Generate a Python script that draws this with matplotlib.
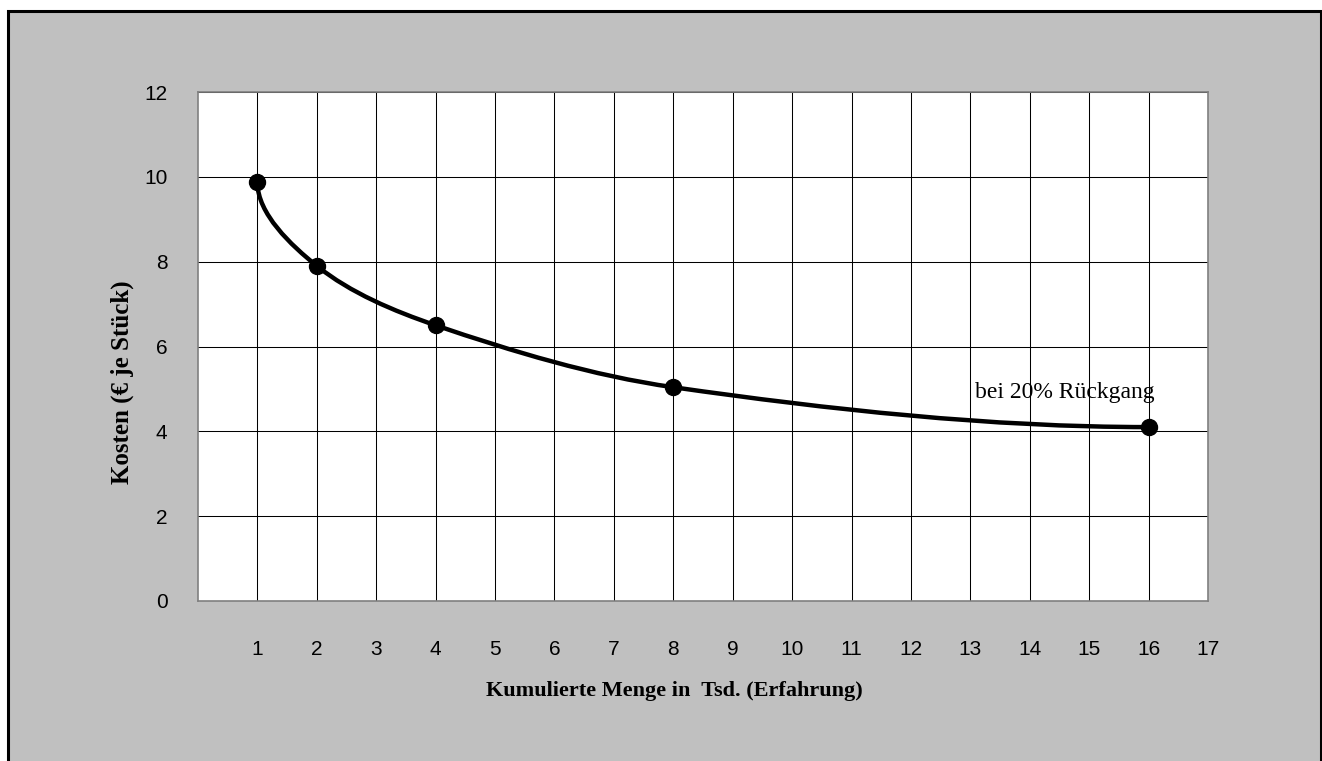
"""
Erfahrungskurve: Kosten je Stueck bei 20% Rueckgang
"""
import numpy as np
import matplotlib
matplotlib.use('Agg')
import matplotlib.pyplot as plt
from matplotlib.path import Path
from matplotlib.patches import PathPatch, Rectangle

# =============================================================================
# Data
# =============================================================================
menge = [1, 2, 4, 8, 16]                 # kumulierte Menge in Tsd.
kosten = [9.87, 7.9, 6.5, 5.04, 4.1]     # Euro je Stueck
x_ticks = list(range(1, 18))
y_ticks = [0, 2, 4, 6, 8, 10, 12]

# =============================================================================
# Figure
# =============================================================================
fig = plt.figure(figsize=(13.22, 7.61), dpi=100, facecolor='white')
fig.patches.append(Rectangle((7.5/1322, -0.05), 1313/1322, 1.05 - 10.5/761,
                             transform=fig.transFigure, facecolor='#c0c0c0',
                             edgecolor='black', linewidth=2.2, zorder=-5))

ax = fig.add_axes([198/1322, 160/761, 1010/1322, 509/761])
ax.set_facecolor('white')
ax.set_xlim(0, 17)
ax.set_ylim(0, 12)

ax.set_xticks(x_ticks)
ax.set_xticklabels([str(t) for t in x_ticks], fontsize=15, family='Liberation Sans')
ax.set_yticks(y_ticks)
ax.set_yticklabels([str(t) for t in y_ticks], fontsize=15, family='Liberation Sans')
ax.tick_params(axis='x', length=0, pad=28)
ax.tick_params(axis='y', length=0, pad=22)
ax.grid(True, color='black', linewidth=0.75)
ax.set_axisbelow(True)
for s in ax.spines.values():
    s.set_color('#808080')
    s.set_linewidth(1.2)

# smooth line (Bezier through the points, computed in screen space)
pts = ax.transData.transform(np.column_stack([menge, kosten]))
n = len(pts)
d = [np.hypot(*(pts[i+1] - pts[i])) for i in range(n-1)]
verts = [pts[0]]
codes = [Path.MOVETO]
ctrl = []
for i in range(n-1):
    if i > 0:
        c1 = pts[i] + (pts[i+1] - pts[i-1]) * d[i] / (d[i-1] + d[i]) / 3
    else:
        c1 = None
    if i < n-2:
        c2 = pts[i+1] - (pts[i+2] - pts[i]) * d[i] / (d[i] + d[i+1]) / 3
    else:
        c2 = None
    ctrl.append([c1, c2])
# ends: leave first point vertically, reach last point horizontally
c2 = ctrl[0][1]
ctrl[0][0] = np.array([pts[0][0], (pts[0][1] + c2[1]) / 2])
c1 = ctrl[-1][0]
ctrl[-1][1] = np.array([(pts[-1][0] + c1[0]) / 2, pts[-1][1]])
for i in range(n-1):
    verts += [ctrl[i][0], ctrl[i][1], pts[i+1]]
    codes += [Path.CURVE4] * 3
verts = ax.transData.inverted().transform(np.array(verts))
ax.add_patch(PathPatch(Path(verts, codes), facecolor='none', edgecolor='black',
                       linewidth=3.2, zorder=3))
ax.plot(menge, kosten, 'o', color='black', markersize=11.5, zorder=4)

ax.text(13.08, 4.92, 'bei 20% Rückgang', fontsize=17, family='Liberation Serif',
        ha='left', va='center')

ax.set_xlabel('Kumulierte Menge in  Tsd. (Erfahrung)', fontsize=16,
              family='Liberation Serif', fontweight='bold')
ax.set_ylabel('Kosten (€ je Stück)', fontsize=18, family='Liberation Serif',
              fontweight='bold')
ax.xaxis.set_label_coords(0.472, -0.158)
ax.yaxis.set_label_coords(-0.063, 0.43)

plt.savefig('out.png', dpi=100, facecolor=fig.get_facecolor())
